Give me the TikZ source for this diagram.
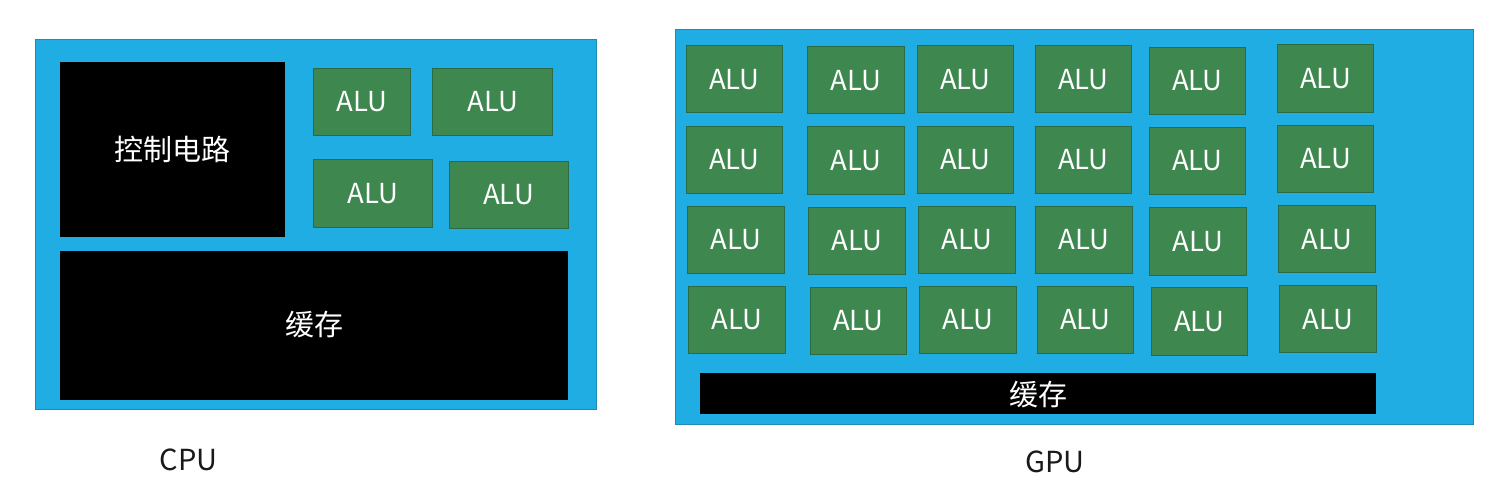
\documentclass[tikz,border=0pt]{standalone}
\usepackage{fontspec}
\setmainfont{Noto Sans CJK SC}
\begin{document}
\begin{tikzpicture}[x=1pt,y=-1pt,
  chip/.style={draw=blueedge,fill=chipblue,line width=1pt,inner sep=0pt,anchor=center},
  alu/.style={draw=aluedge,fill=alugreen,line width=1pt,inner sep=0pt,text=white,font=\fontsize{27.5}{27.5}\selectfont},
  blk/.style={fill=black,inner sep=0pt,text=white,font=\fontsize{29}{29}\selectfont},
  lbl/.style={font=\fontsize{29}{29}\selectfont,text=black!90}]
\definecolor{chipblue}{HTML}{1FADE3}
\definecolor{blueedge}{HTML}{1A8CB8}
\definecolor{alugreen}{HTML}{3E8850}
\definecolor{aluedge}{HTML}{2A6B45}
\newcommand{\boxnode}[6]{\node[#1,minimum width={(#5-#3)*1pt},minimum height={(#6-#4)*1pt}] (#2) at ({(#3+#5)/2},{(#4+#6)/2}) {};}
\newcommand{\alunode}[5]{\node[alu,minimum width={(#4-#2)*1pt},minimum height={(#5-#3)*1pt}] (#1) at ({(#2+#4)/2},{(#3+#5)/2}) {\raisebox{-1.5pt}{ALU}};}
\useasboundingbox (0,0) rectangle (1495,483);
% CPU
\boxnode{chip}{cpu}{35}{39}{596}{409}
\node[blk,minimum width=225pt,minimum height=175pt] (ctrl) at (172.5,149.5) {\raisebox{-1pt}{控制电路}};
\node[blk,minimum width=508pt,minimum height=149pt] (ccache) at (314,325) {\raisebox{-1pt}{缓存}};
\alunode{c1}{313.5}{68.3}{410.3}{135.7}
\alunode{c2}{432.9}{68.3}{552.4}{135.7}
\alunode{c3}{313.5}{159.3}{432.9}{227}
\alunode{c4}{449}{161}{568}{228.7}
\node[lbl] (cpulbl) at (188.7,460) {CPU};
% GPU
\boxnode{chip}{gpu}{675}{29}{1473}{424}
% row 1
\alunode{g11}{686}{45.7}{782.7}{112.7}
\alunode{g12}{807.7}{46.7}{904.7}{113.7}
\alunode{g13}{917}{45.7}{1013.7}{112.7}
\alunode{g14}{1035}{45.7}{1131.7}{112.7}
\alunode{g15}{1149}{47.3}{1245.7}{114.3}
\alunode{g16}{1277.3}{44.7}{1373.7}{112}
% row 2
\alunode{g21}{686}{126}{782.7}{193.3}
\alunode{g22}{807.3}{126.7}{904.7}{194}
\alunode{g23}{917}{126}{1013.7}{193.3}
\alunode{g24}{1035}{126}{1131.7}{193.3}
\alunode{g25}{1149}{127.3}{1245.7}{194.3}
\alunode{g26}{1277.3}{125.3}{1373.7}{192.7}
% row 3
\alunode{g31}{687.3}{206.3}{784.3}{273.7}
\alunode{g32}{808.3}{207}{905}{274.3}
\alunode{g33}{918.3}{206.3}{1015}{273.7}
\alunode{g34}{1035.7}{206.3}{1132.3}{273.7}
\alunode{g35}{1149.7}{207.7}{1246.3}{275}
\alunode{g36}{1278.7}{205.7}{1375.3}{272.7}
% row 4
\alunode{g41}{688.3}{286.3}{785}{353.3}
\alunode{g42}{810}{287}{906.7}{354.3}
\alunode{g43}{919.3}{286.3}{1016}{353.3}
\alunode{g44}{1037}{286.3}{1133.7}{353.3}
\alunode{g45}{1151}{287.7}{1247.7}{355}
\alunode{g46}{1279.3}{285.7}{1376}{352.7}
\node[blk,minimum width=676.3pt,minimum height=40.7pt] (gcache) at (1038.2,393.7) {};
\node[text=white,font=\fontsize{29}{29}\selectfont] (gcachetxt) at (1038,395) {缓存};
\node[lbl] (gpulbl) at (1055,461.5) {GPU};
\end{tikzpicture}
\end{document}
